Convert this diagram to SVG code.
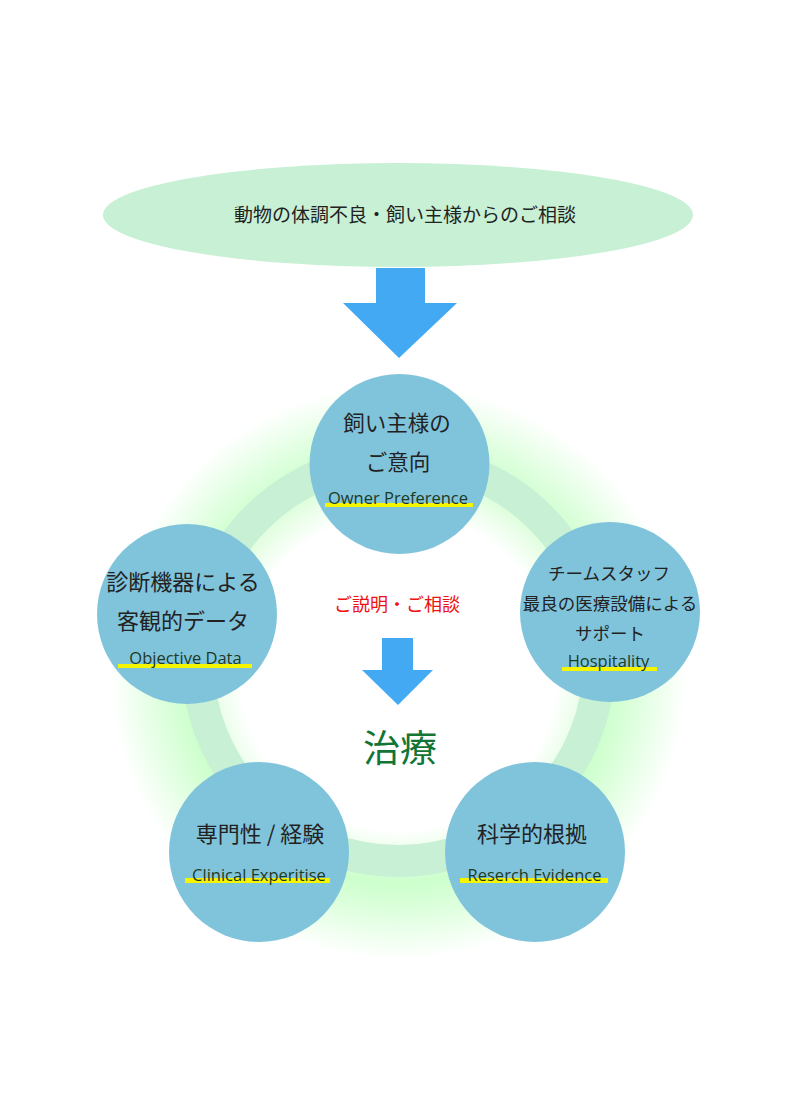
<svg xmlns="http://www.w3.org/2000/svg" width="796" height="1114" viewBox="0 0 796 1114">
<style>
.jp{font-family:"Noto Sans CJK JP","Noto Sans",sans-serif;fill:#222;text-anchor:middle}
.en{font-family:"Open Sans","Noto Sans",sans-serif;fill:#1e3a22;text-anchor:middle;font-size:16.5px}
.node{fill:#80c4dc}
.ul{fill:#f5f500}
.arrow{fill:#44a9f3}
</style>
<defs>
<radialGradient id="glow" gradientUnits="userSpaceOnUse" cx="398.5" cy="672" r="288">
<stop offset="0" stop-color="#ccffcc" stop-opacity="0"/>
<stop offset="0.55" stop-color="#ccffcc" stop-opacity="0"/>
<stop offset="0.63" stop-color="#d4fdd0" stop-opacity="0.45"/>
<stop offset="0.73" stop-color="#ccffcc" stop-opacity="1"/>
<stop offset="0.82" stop-color="#ccffcc" stop-opacity="0.7"/>
<stop offset="1" stop-color="#ccffcc" stop-opacity="0"/>
</radialGradient>
</defs>
<rect width="796" height="1114" fill="#fff"/>
<g id="cycle-ring">
<circle cx="398.5" cy="672" r="288" fill="url(#glow)"/>
<circle cx="398.5" cy="660" r="201" fill="none" stroke="#c8f0d5" stroke-width="32"/>
</g>
<g id="consultation">
<ellipse cx="398" cy="215" rx="295" ry="52" fill="#c8f0d5"/>
<text class="jp" x="405" y="222" font-size="19">動物の体調不良・飼い主様からのご相談</text>
</g>
<g id="connectors">
<polygon class="arrow" points="376,268 425,268 425,303 457,303 399,358 343,303 376,303"/>
<polygon class="arrow" points="382,638 413,638 413,670 433,670 398,705 362,670 382,670"/>
</g>
<g id="explanation">
<text class="jp" x="397" y="611" font-size="18" style="fill:#ee1111">ご説明・ご相談</text>
</g>
<g id="treatment">
<text class="jp" x="400" y="762" font-size="37" style="fill:#127536">治療</text>
</g>
<g id="owner-preference">
<circle class="node" cx="399.5" cy="464" r="90"/>
<text class="jp" x="397" y="431" font-size="21.5">飼い主様の</text>
<text class="jp" x="398" y="470" font-size="21.5">ご意向</text>
<rect class="ul" x="325" y="503" width="148" height="4"/>
<text class="en" x="398" y="504">Owner Preference</text>
</g>
<g id="objective-data">
<circle class="node" cx="187" cy="614" r="90"/>
<text class="jp" x="183" y="590" font-size="22">診断機器による</text>
<text class="jp" x="183" y="629" font-size="22">客観的データ</text>
<rect class="ul" x="118" y="664" width="134" height="4"/>
<text class="en" x="185.5" y="664">Objective Data</text>
</g>
<g id="hospitality">
<circle class="node" cx="610" cy="612" r="90"/>
<text class="jp" x="609" y="580" font-size="17.5">チームスタッフ</text>
<text class="jp" x="610" y="610" font-size="17.5">最良の医療設備による</text>
<text class="jp" x="610" y="640" font-size="17.5">サポート</text>
<rect class="ul" x="562" y="667" width="95" height="4"/>
<text class="en" x="608.5" y="667">Hospitality</text>
</g>
<g id="clinical-expertise">
<circle class="node" cx="259" cy="852" r="90"/>
<text class="jp" x="260" y="842" font-size="22">専門性 / 経験</text>
<rect class="ul" x="185" y="878" width="145" height="5"/>
<text class="en" x="259" y="881">Clinical Experitise</text>
</g>
<g id="research-evidence">
<circle class="node" cx="535" cy="852" r="90"/>
<text class="jp" x="532" y="842" font-size="22">科学的根拠</text>
<rect class="ul" x="460" y="878" width="148" height="5"/>
<text class="en" x="534.5" y="881">Reserch Evidence</text>
</g>
</svg>
